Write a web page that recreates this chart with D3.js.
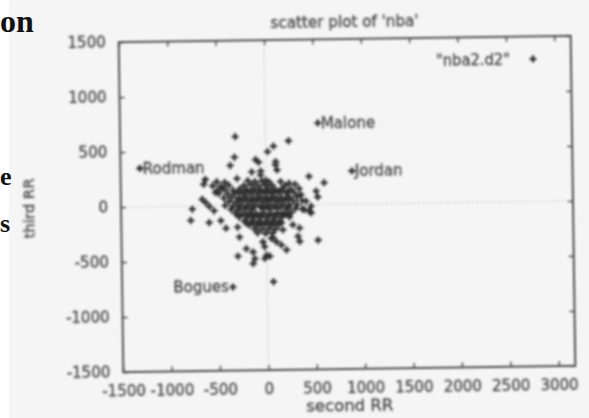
<!DOCTYPE html>
<html><head><meta charset="utf-8">
<script src="https://cdn.jsdelivr.net/npm/d3@7"></script>
<style>html,body{margin:0;padding:0;background:#f5f5f5;overflow:hidden}</style>
</head><body>
<script>
// ---------- data ----------
const chartTitle = "scatter plot of 'nba'";
const xTitle = "second RR";
const yTitle = "third RR";
const keyLabel = '"nba2.d2"';
const xTicks = [-1500,-1000,-500,0,500,1000,1500,2000,2500,3000];
const yTicks = [-1500,-1000,-500,0,500,1000,1500];
const xDomain = [-1500, 3170];
const yDomain = [-1500, 1500];

// dense core of players
const cluster = [
 [-508,218],[-425,212],[-187,224],[-114,215],[-41,220],[31,212],
 [-550,182],[-467,176],[-384,186],[-228,180],[-156,188],[-83,178],[-10,184],[62,180],[197,176],[301,186],
 [-425,148],[-342,140],[-270,150],[-197,143],[-124,147],[-52,141],[21,150],[93,144],[166,148],[259,140],[342,146],
 [-487,112],[-394,105],[-321,110],[-239,106],[-166,113],[-93,104],[-21,111],[52,107],[124,113],[207,105],[290,110],
 [-436,70],[-353,76],[-280,72],[-207,78],[-135,69],[-62,75],[10,71],[83,77],[156,70],[239,74],[321,71],
 [-384,38],[-311,33],[-239,40],[-166,35],[-93,39],[-21,32],[52,37],[124,34],[197,40],[280,35],[373,37],
 [-425,2],[-342,-3],[-270,4],[-197,-2],[-124,3],[-52,-4],[21,1],[93,-3],[166,4],[239,-1],[321,2],
 [-363,-34],[-290,-39],[-218,-33],[-145,-38],[-31,-35],[41,-40],[114,-33],[218,-37],[301,-34],[373,-39],
 [-321,-70],[-249,-76],[-176,-71],[-104,-75],[-31,-69],[41,-77],[114,-72],[187,-74],[259,-70],
 [-280,-106],[-197,-112],[-124,-107],[-52,-111],[21,-105],[93,-113],[166,-108],[239,-110],
 [-228,-142],[-156,-148],[-83,-144],[-10,-149],[62,-141],[135,-147],
 [-176,-180],[-93,-185],[-21,-178],[52,-184],[124,-181],
 [-124,-215],[-52,-221],[21,-217],[93,-220],
 [-93,-252],[-10,-257],[62,-254]
];
// extra players in the densest middle of the core
const clusterMid = [
 [-280,127],[-207,124],[-135,130],[-62,126],[10,129],[83,123],[156,128],[228,125],
 [-280,55],[-207,58],[-135,53],[-62,57],[10,54],[83,59],[156,52],[228,56],
 [-280,-18],[-207,-15],[-135,-20],[-62,-16],[10,-19],[83,-14],[156,-21],[228,-17],
 [-280,-91],[-207,-88],[-135,-93],[-62,-89],[10,-94],[83,-90],[156,-87],[228,-92],
 [-207,-164],[-135,-161],[-62,-166],[10,-162],[83,-167],[156,-163]
];
// scattered players around the core
const scattered = [
 [-311,627],[239,582],[83,536],[21,486],[-321,439],[-104,415],[-73,391],[-366,364],[104,394],[101,364],
 [117,318],[-145,303],[-52,309],[-55,273],[-298,245],[446,255],[601,197],[518,121],[534,68],[239,197],
 [152,212],[-625,241],[-643,197],[-505,136],[-453,159],[-660,61],[-625,30],[-586,-5],[-539,-45],[-764,-27],
 [-781,-130],[-591,-152],[-470,-136],[-418,-205],[-298,-197],[-280,-288],[-298,-461],[-211,-394],[-142,-425],[-124,-485],
 [-142,-530],[-21,-485],[31,-464],[65,-697],[204,-409],[152,-364],[101,-334],[65,-294],[-38,-334],[-21,-379],
 [169,-227],[273,-182],[342,-212],[325,-288],[342,-334],[532,-325],[446,-61],[394,-45],[360,91],[412,30],
 [464,-15],[-3,227],[-522,121],[464,-75],[49,-303],[-3,-455]
];
// labelled players
const namedNames = ["Rodman","Malone","Jordan","Bogues"];
const namedX = [-1300, 545, 890, -355];
const namedY = [350, 740, 300, -740];
const namedSide = ["right","right","right","left"];

// page-margin text fragments from the scanned book page
const marginText = [["on",0,32,32],["e",0,185,26],["s",0,232,26]];

// ---------- drawing ----------
const W = 589, H = 418;
const L = 121, R = 573, T = 39, B = 369;
const svg = d3.select("body").append("svg").attr("width", W).attr("height", H);
const defs = svg.append("defs");
defs.append("filter").attr("id","blur").attr("x","-5%").attr("y","-5%").attr("width","110%").attr("height","110%")
  .append("feGaussianBlur").attr("stdDeviation",0.8);

svg.append("rect").attr("x",0).attr("y",0).attr("width",W).attr("height",H).attr("fill","#f5f5f5");
svg.append("rect").attr("x",0).attr("y",0).attr("width",9).attr("height",H).attr("fill","#ffffff");

svg.append("g").selectAll("text").data(marginText).join("text")
  .attr("x", d=>d[1]).attr("y", d=>d[2]).attr("font-size", d=>d[3]).text(d=>d[0])
  .attr("font-family","'Liberation Serif','Times New Roman',serif").attr("font-weight","bold")
  .attr("fill","#111");

const g = svg.append("g").attr("filter","url(#blur)")
  .attr("transform", `rotate(-0.8 ${(L+R)/2} ${(T+B)/2})`);

const x = d3.scaleLinear().domain(xDomain).range([L, R]);
const y = d3.scaleLinear().domain(yDomain).range([B, T]);

const FONT = "'DejaVu Sans', Verdana, sans-serif";
const TXT = "#4a4a4a";
const INK = "#404040";

function textStyle(sel, size){
  sel.attr("font-family",FONT).attr("font-size",size).attr("fill",TXT)
     .attr("stroke",TXT).attr("stroke-width",0.35);
}

// zero lines
g.append("line").attr("x1",x(0)).attr("x2",x(0)).attr("y1",T).attr("y2",B)
  .attr("stroke","#b0b0b0").attr("stroke-width",1).attr("stroke-dasharray","1.5,3");
g.append("line").attr("x1",L).attr("x2",R).attr("y1",y(0)).attr("y2",y(0))
  .attr("stroke","#b0b0b0").attr("stroke-width",1).attr("stroke-dasharray","1.5,3");

// axes
function styleAxis(sel){
  sel.select(".domain").remove();
  sel.selectAll(".tick line").attr("stroke",INK).attr("stroke-width",1.4);
  textStyle(sel.selectAll(".tick text"), 15);
}
const fmt = d => String(d);
const ax = g.append("g").attr("transform",`translate(0,${B})`)
  .call(d3.axisBottom(x).tickValues(xTicks).tickFormat(fmt).tickSize(-5).tickPadding(13));
styleAxis(ax); ax.selectAll(".tick text").attr("dy","0.71em");
const axT = g.append("g").attr("transform",`translate(0,${T})`)
  .call(d3.axisTop(x).tickValues(xTicks).tickFormat("").tickSize(-5));
styleAxis(axT);
const ay = g.append("g").attr("transform",`translate(${L},0)`)
  .call(d3.axisLeft(y).tickValues(yTicks).tickFormat(fmt).tickSize(-5).tickPadding(13));
styleAxis(ay);
const ayR = g.append("g").attr("transform",`translate(${R},0)`)
  .call(d3.axisRight(y).tickValues(yTicks).tickFormat("").tickSize(-5));
styleAxis(ayR);

// frame
g.append("rect").attr("x",L).attr("y",T).attr("width",R-L).attr("height",B-T)
  .attr("fill","none").attr("stroke",INK).attr("stroke-width",1.8);

// titles
textStyle(g.append("text").attr("x",(L+R)/2).attr("y",27).attr("text-anchor","middle")
  .attr("textLength",148).attr("lengthAdjust","spacingAndGlyphs").text(chartTitle), 15);
textStyle(g.append("text").attr("x",(L+R)/2).attr("y",411).attr("text-anchor","middle")
  .attr("textLength",87).attr("lengthAdjust","spacingAndGlyphs").text(xTitle), 15);
textStyle(g.append("text").attr("transform",`translate(34,${(T+B)/2}) rotate(-90)`).attr("text-anchor","middle")
  .attr("textLength",60).attr("lengthAdjust","spacingAndGlyphs").text(yTitle), 14);

// point symbol
function plus(sel, px, py){
  sel.append("path").attr("d",`M${px-3.5},${py}H${px+3.5}M${px},${py-3.5}V${py+3.5}`)
    .attr("stroke","#2e2e2e").attr("stroke-width",2.3).attr("fill","none");
}
const pts = g.append("g");
cluster.concat(clusterMid, scattered).forEach(d => plus(pts, x(d[0]), y(d[1])));

// labelled players
namedNames.forEach((n,i) => {
  const px = x(namedX[i]), py = y(namedY[i]);
  plus(pts, px, py);
  const right = namedSide[i] === "right";
  textStyle(g.append("text").attr("x", right ? px+3 : px-4).attr("y", py+5)
    .attr("text-anchor", right ? "start" : "end").text(n), 15);
});

// key
textStyle(g.append("text").attr("x",512).attr("y",66.5).attr("text-anchor","end")
  .attr("textLength",74).attr("lengthAdjust","spacingAndGlyphs").text(keyLabel), 15);
plus(pts, 535, 61.6);
</script>
</body></html>
